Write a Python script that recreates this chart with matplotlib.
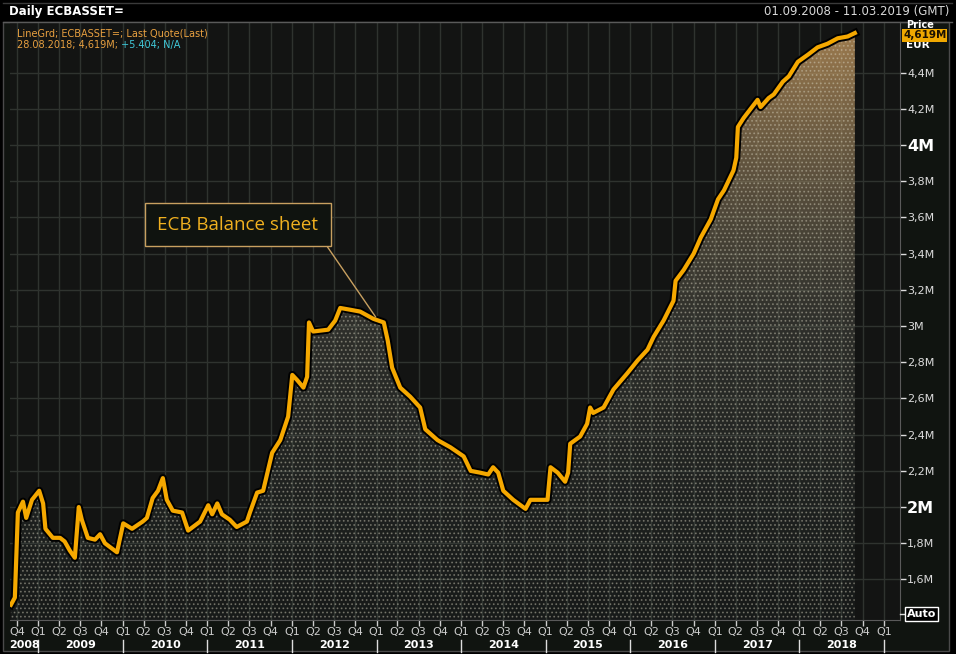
import matplotlib
matplotlib.use("Agg")
import matplotlib.pyplot as plt
import matplotlib.dates as mdates
import matplotlib.patheffects as pe
from matplotlib.patches import Rectangle
from matplotlib.lines import Line2D
from matplotlib.colors import LinearSegmentedColormap
import numpy as np
import pandas as pd

# ECB total assets, EUR trillions ("M" on the Eikon axis)
dates = [
    "2008-09-05", "2008-09-22", "2008-10-05", "2008-10-27", "2008-11-10", "2008-12-05",
    "2009-01-05", "2009-01-22", "2009-02-01", "2009-03-05", "2009-04-05", "2009-04-25",
    "2009-05-17", "2009-06-08", "2009-06-25", "2009-07-08", "2009-08-03", "2009-09-03",
    "2009-09-25", "2009-10-16", "2009-12-07", "2010-01-03", "2010-02-10", "2010-03-28",
    "2010-04-15", "2010-05-10", "2010-06-02", "2010-06-23", "2010-07-10", "2010-08-05",
    "2010-09-14", "2010-10-10", "2010-12-01", "2011-01-05", "2011-01-22", "2011-02-13",
    "2011-03-05", "2011-04-08", "2011-05-08", "2011-06-21", "2011-07-04", "2011-08-04",
    "2011-08-30", "2011-10-08", "2011-11-12", "2011-12-16", "2012-01-03", "2012-01-25",
    "2012-02-20", "2012-03-07", "2012-03-15", "2012-04-02", "2012-06-06", "2012-07-06",
    "2012-07-28", "2012-09-10", "2012-10-22", "2012-12-18", "2013-02-01", "2013-02-18",
    "2013-03-09", "2013-04-13", "2013-05-26", "2013-07-08", "2013-07-30", "2013-09-21",
    "2013-11-16", "2014-01-12", "2014-02-11", "2014-03-24", "2014-04-28", "2014-05-19",
    "2014-06-10", "2014-07-02", "2014-08-14", "2014-10-06", "2014-10-27", "2014-12-22",
    "2015-01-09", "2015-01-22", "2015-02-22", "2015-03-26", "2015-04-08", "2015-04-17",
    "2015-05-30", "2015-06-29", "2015-07-12", "2015-07-25", "2015-09-08", "2015-10-21",
    "2015-12-20", "2016-02-02", "2016-03-16", "2016-04-11", "2016-05-24", "2016-07-06",
    "2016-07-15", "2016-08-19", "2016-10-01", "2016-11-01", "2016-12-14", "2017-01-14",
    "2017-02-09", "2017-03-22", "2017-04-03", "2017-04-10", "2017-05-05", "2017-06-04",
    "2017-07-04", "2017-07-17", "2017-08-21", "2017-09-12", "2017-10-21", "2017-11-16",
    "2017-12-25", "2018-02-07", "2018-03-20", "2018-05-02", "2018-06-15", "2018-07-28",
    "2018-08-28",
]
values = [
    1.46, 1.50, 1.97, 2.03, 1.94, 2.04,
    2.09, 2.02, 1.88, 1.83, 1.83, 1.81,
    1.76, 1.72, 2.00, 1.93, 1.83, 1.82,
    1.85, 1.80, 1.75, 1.91, 1.88, 1.92,
    1.94, 2.05, 2.09, 2.16, 2.04, 1.98,
    1.97, 1.87, 1.92, 2.01, 1.96, 2.02,
    1.96, 1.93, 1.89, 1.92, 1.97, 2.08,
    2.09, 2.30, 2.37, 2.50, 2.73, 2.70,
    2.66, 2.72, 3.02, 2.97, 2.98, 3.03,
    3.10, 3.09, 3.08, 3.04, 3.02, 2.92,
    2.77, 2.66, 2.61, 2.55, 2.43, 2.37,
    2.33, 2.28, 2.20, 2.19, 2.18, 2.22,
    2.19, 2.09, 2.04, 1.99, 2.04, 2.04,
    2.04, 2.22, 2.19, 2.14, 2.19, 2.35,
    2.39, 2.46, 2.55, 2.52, 2.55, 2.65,
    2.74, 2.81, 2.87, 2.94, 3.03, 3.14,
    3.25, 3.31, 3.40, 3.49, 3.59, 3.70,
    3.75, 3.86, 3.93, 4.10, 4.15, 4.20,
    4.25, 4.21, 4.26, 4.28, 4.35, 4.38,
    4.46, 4.50, 4.54, 4.56, 4.59, 4.60,
    4.619,
]

y_ticks = [1.6, 1.8, 2.0, 2.2, 2.4, 2.6, 2.8, 3.0, 3.2, 3.4, 3.6, 3.8, 4.0, 4.2, 4.4]
years = list(range(2008, 2019))

W, H = 956, 654


def fx(px):
    return px / W


def fy(py):
    return 1 - py / H


x = pd.to_datetime(dates)
xnum = mdates.date2num(x)
x_lo = mdates.date2num(pd.Timestamp("2008-09-01"))
x_hi = mdates.date2num(pd.Timestamp("2019-03-11"))
y_lo, y_hi = 1.376, 4.68

fig = plt.figure(figsize=(W / 100, H / 100), dpi=100, facecolor="#000000")

# panel behind the chart
fig.patches.append(Rectangle((fx(3), fy(651)), fx(949) - fx(3), fy(22) - fy(651),
                             transform=fig.transFigure, facecolor="#101410",
                             edgecolor="#4a4a4a", lw=1, zorder=-5))
fig.lines.append(Line2D([fx(3), fx(952)], [fy(21.5), fy(21.5)], transform=fig.transFigure,
                        color="#5a5a5a", lw=1))
fig.lines.append(Line2D([fx(3), fx(952)], [fy(3), fy(3)], transform=fig.transFigure,
                        color="#3a3a3a", lw=1))

ax = fig.add_axes([fx(10), fy(620), fx(900) - fx(10), fy(22) - fy(620)])
ax.set_facecolor("#131413")

# dotted gradient fill under the line
grad = np.linspace(0, 1, 256).reshape(-1, 1)
cmap = LinearSegmentedColormap.from_list(
    "fade", [(0.0, (0.25, 0.32, 0.32, 0.10)),
             (0.5, (0.45, 0.45, 0.40, 0.30)),
             (1.0, (0.78, 0.60, 0.37, 0.80))])
im = ax.imshow(grad, extent=[x_lo, x_hi, y_lo, y_hi], origin="lower", aspect="auto",
               cmap=cmap, zorder=2, interpolation="bilinear")
poly = ax.fill_between(xnum, values, y_lo, facecolor="none", edgecolor="none")
im.set_clip_path(poly.get_paths()[0], transform=ax.transData)
plt.rcParams["hatch.linewidth"] = 0.8
ax.fill_between(xnum, values, y_lo, facecolor="none", edgecolor="#d8d4c0", hatch="....",
                linewidth=0, alpha=0.38, zorder=3)

ax.plot(xnum, values, color="#f5a800", lw=3.0, solid_joinstyle="round", zorder=5,
        path_effects=[pe.Stroke(linewidth=5.8, foreground="#000000"), pe.Normal()])

ax.set_xlim(x_lo, x_hi)
ax.set_ylim(y_lo, y_hi)

# grid: quarters and 0.2M steps
quarters = pd.date_range("2008-10-01", "2019-01-01", freq="QS")
ax.set_xticks(mdates.date2num(quarters))
ax.set_xticklabels([f"Q{q.quarter}" for q in quarters])
ax.yaxis.tick_right()
ax.set_yticks(y_ticks)
ax.set_yticklabels([("%gM" % v).replace(".", ",") for v in y_ticks])
ax.grid(True, color="#2f332f", lw=1, zorder=1)
ax.tick_params(axis="x", colors="#cccccc", labelsize=8, length=4, pad=1, width=1)
ax.tick_params(axis="y", colors="#dddddd", labelsize=8, length=4, pad=1, width=1)
for lab in ax.get_yticklabels():
    if lab.get_text() in ("2M", "4M"):
        lab.set_fontsize(11.5)
        lab.set_fontweight("bold")
        lab.set_color("white")
for sp in ax.spines.values():
    sp.set_color("#5a5a5a")
ax.spines["top"].set_visible(False)
ax.spines["left"].set_visible(False)

# year labels and separators
for yr in years:
    a = max(pd.Timestamp(f"{yr}-01-01"), pd.Timestamp("2008-09-01"))
    b = pd.Timestamp(f"{yr + 1}-01-01")
    mid = mdates.date2num(a + (b - a) / 2)
    ax.text(mid, -0.042, str(yr), transform=ax.get_xaxis_transform(), ha="center",
            va="center", color="white", fontsize=8, fontweight="bold", clip_on=False)
    sep = mdates.date2num(b)
    ax.plot([sep, sep], [-0.033, -0.054], transform=ax.get_xaxis_transform(),
            color="#dddddd", lw=1, clip_on=False)

# legend lines
t1 = ax.text(fx(17), fy(33), "LineGrd; ECBASSET=; Last Quote(Last)", transform=fig.transFigure,
             color="#e8a040", fontsize=7, va="center")
t2 = ax.text(fx(17), fy(45), "28.08.2018; 4,619M;", transform=fig.transFigure,
             color="#e8a040", fontsize=7, va="center")
ax.annotate(" +5.404; N/A", xy=(1, 0), xycoords=t2, va="bottom", color="#40c8d8",
            fontsize=7)

# callout
ax.annotate("ECB Balance sheet", xy=(mdates.date2num(pd.Timestamp("2012-12-28")), 3.05),
            xytext=(mdates.date2num(pd.Timestamp("2011-05-13")), 3.56),
            ha="center", va="center", color="#f0b020", fontsize=13.5, family="Open Sans",
            bbox=dict(boxstyle="square,pad=0.68", facecolor="#0f130f", edgecolor="#c8a060", lw=1),
            arrowprops=dict(arrowstyle="-", color="#c8a060", lw=1, relpos=(1, 0),
                            shrinkA=0, shrinkB=0),
            zorder=6)

# header
fig.text(fx(9), fy(12), "Daily ECBASSET=", color="white", fontsize=8.5, fontweight="bold",
         va="center")
fig.text(fx(949), fy(12), "01.09.2008 - 11.03.2019 (GMT)", color="#d8d8d8", fontsize=8.5,
         va="center", ha="right")

# right axis header and last value tag
fig.text(fx(906), fy(25.5), "Price", color="white", fontsize=7, fontweight="bold", va="center")
fig.text(fx(906), fy(45), "EUR", color="white", fontsize=7.5, fontweight="bold", va="center")
fig.text(fx(903), fy(35.5), "4,619M", color="#1a1000", fontsize=7.5, fontweight="bold",
         va="center", bbox=dict(boxstyle="square,pad=0.1", facecolor="#f0a800",
                                edgecolor="none"))
fig.lines.append(Line2D([fx(900), fx(904)], [fy(614), fy(614)], transform=fig.transFigure,
                        color="#dddddd", lw=1))
fig.text(fx(907), fy(614), "Auto", color="white", fontsize=8, fontweight="bold", va="center",
         bbox=dict(boxstyle="square,pad=0.15", facecolor="#000000", edgecolor="white", lw=1))

fig.savefig("out.png", dpi=100, facecolor=fig.get_facecolor())
